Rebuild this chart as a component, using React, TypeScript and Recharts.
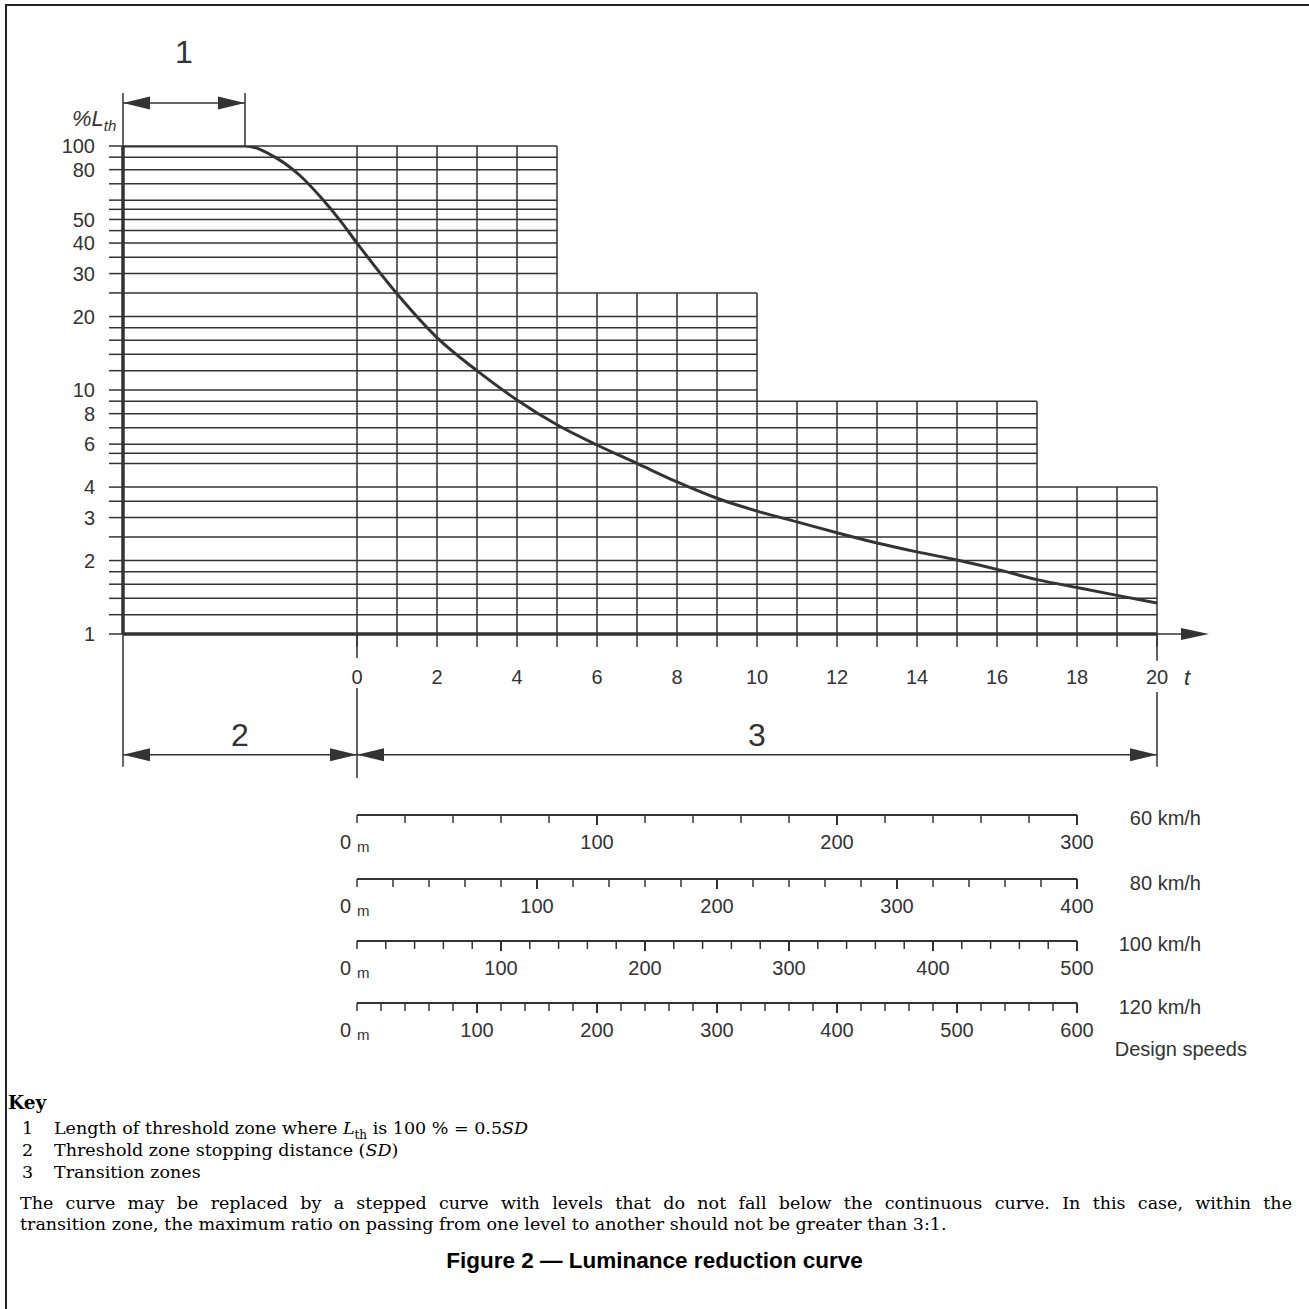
import { ComposedChart, LineChart, Line, XAxis, YAxis, ReferenceLine } from "recharts";

// luminance curve (t in s, %Lth)
const curveT = [-5.85, -2.8, -2, -1.4, -0.9, -0.4, 0, 1, 2, 3, 4, 5, 6, 7, 8, 9, 10, 11, 12, 13, 14, 15, 16, 17, 18, 19, 20];
const curveL = [100, 100, 89, 75, 61.5, 49, 40, 24.8, 16.4, 12, 9.1, 7.2, 5.95, 5.0, 4.2, 3.6, 3.19, 2.88, 2.6, 2.36, 2.17, 2.01, 1.84, 1.67, 1.55, 1.44, 1.34];

// grid
const gridLevels = [1.2, 1.4, 1.6, 1.8, 2, 2.5, 3, 3.5, 4, 5, 5.5, 6, 7, 8, 9, 10, 12, 14, 16, 18, 20, 25, 30, 35, 40, 45, 50, 55, 60, 70, 80, 90, 100];
const yLabels = [1, 2, 3, 4, 6, 8, 10, 20, 30, 40, 50, 80, 100];
const xTicks = [0, 1, 2, 3, 4, 5, 6, 7, 8, 9, 10, 11, 12, 13, 14, 15, 16, 17, 18, 19, 20];
const stepEnds = [5, 10, 17, 20];
const stepTops = [100, 25, 9, 4];

// zones
const tStart = -5.85;
const thresholdEnd = -2.8;

// design speed scales (distance reached at t = 18 s)
const speedNames = ["60 km/h", "80 km/h", "100 km/h", "120 km/h"];
const speedMax = [300, 400, 500, 600];

const INK = "#333";
const SANS = "'Liberation Sans', Arial, sans-serif";
const SERIF = "'DejaVu Serif', serif";

const curveData = curveT.map((t, i) => ({ t, l: curveL[i] }));

const rowEnd = (v: number) => {
  let end = stepEnds[0];
  stepTops.forEach((top, i) => {
    if (top >= v) end = stepEnds[i];
  });
  return end;
};

const colTop = (t: number) => {
  const i = stepEnds.findIndex((e) => t <= e);
  return stepTops[i];
};

const dimShape = (label: string, gap: number) => (p: any) => {
  const { x1, y1, x2 } = p;
  const a = 27;
  const h = 6.5;
  return (
    <g>
      <line x1={x1} y1={y1} x2={x2} y2={y1} stroke={INK} strokeWidth={1.5} />
      <polygon points={`${x1},${y1} ${x1 + a},${y1 - h} ${x1 + a},${y1 + h}`} fill={INK} />
      <polygon points={`${x2},${y1} ${x2 - a},${y1 - h} ${x2 - a},${y1 + h}`} fill={INK} />
      <text x={(x1 + x2) / 2} y={y1 - gap} textAnchor="middle" fontSize={32} fill={INK}>
        {label}
      </text>
    </g>
  );
};

const axisArrow = (p: any) => {
  const { x1, y1, x2 } = p;
  return (
    <g>
      <line x1={x1} y1={y1} x2={x2 - 20} y2={y1} stroke={INK} strokeWidth={1.5} />
      <polygon points={`${x2},${y1} ${x2 - 28},${y1 - 6} ${x2 - 28},${y1 + 6}`} fill={INK} />
      <text x={x2 - 22} y={y1 + 51} textAnchor="middle" fontSize={22} fontStyle="italic" fill={INK}>
        t
      </text>
    </g>
  );
};

const ScaleTick = (props: any) => {
  const { x, y, payload } = props;
  const v = payload.value;
  const major = v % 100 === 0 && v > 0;
  return (
    <g>
      <line x1={x} y1={y} x2={x} y2={y + (major ? 10 : 8)} stroke={INK} strokeWidth={major ? 2 : 1.5} />
      {v === 0 ? (
        <g>
          <text x={x - 6} y={y + 34} textAnchor="end" fontSize={20} fill={INK}>0</text>
          <text x={x} y={y + 37} fontSize={15} fill={INK}>m</text>
        </g>
      ) : major ? (
        <text x={x} y={y + 34} textAnchor="middle" fontSize={20} fill={INK}>{v}</text>
      ) : null}
    </g>
  );
};

const scaleRowY = [815, 879, 941, 1003];
const scaleLabelY = [818, 883, 944, 1007];

function SpeedScale({ max, top }: { max: number; top: number }) {
  const ticks: number[] = [];
  for (let m = 0; m <= max; m += 20) ticks.push(m);
  const data = ticks.map((m) => ({ m }));
  return (
    <div style={{ position: "absolute", left: 0, top: top - 12 }}>
      <LineChart width={1309} height={60} data={data} margin={{ top: 10, right: 232, bottom: 0, left: 357 }}>
        <YAxis hide />
        <XAxis
          dataKey="m"
          type="number"
          domain={[0, max]}
          ticks={ticks}
          interval={0}
          height={48}
          tickSize={0}
          tickMargin={0}
          tickLine={false}
          axisLine={{ stroke: INK, strokeWidth: 2 }}
          tick={<ScaleTick />}
        />
        <Line dataKey="m" stroke="none" dot={false} isAnimationActive={false} />
      </LineChart>
    </div>
  );
}

const textAt = (center: number, left: number, extra: any = {}) => ({
  position: "absolute" as const,
  top: center - 11,
  left,
  lineHeight: "22px",
  whiteSpace: "nowrap" as const,
  ...extra,
});

export default function App() {
  return (
    <div style={{ position: "absolute", left: 0, top: 0, width: 1309, height: 1309, background: "#fff", fontFamily: SANS, color: INK }}>
      <div style={{ position: "absolute", left: 5, top: 4, width: 1304, height: 1305, borderLeft: "2px solid #222", borderTop: "2px solid #222" }} />

      <div style={{ position: "absolute", left: 0, top: 0 }}>
        <ComposedChart width={1309} height={800} data={curveData} margin={{ top: 146, right: 152, bottom: 0, left: 0 }}>
          <XAxis
            dataKey="t"
            type="number"
            domain={[tStart, 20]}
            allowDataOverflow
            ticks={xTicks}
            interval={0}
            height={166}
            tickSize={13}
            tickMargin={23}
            tickLine={{ stroke: INK, strokeWidth: 1.5 }}
            axisLine={{ stroke: INK, strokeWidth: 3.5 }}
            tick={{ fill: INK, fontSize: 20 }}
            tickFormatter={(v: number) => (v % 2 === 0 ? String(v) : "")}
          />
          <YAxis
            type="number"
            scale="log"
            domain={[1, 100]}
            allowDataOverflow
            ticks={[1, ...gridLevels]}
            interval={0}
            width={123}
            tickSize={14}
            tickMargin={14}
            tickLine={{ stroke: INK, strokeWidth: 1.5 }}
            axisLine={{ stroke: INK, strokeWidth: 3.5 }}
            tick={{ fill: INK, fontSize: 20 }}
            tickFormatter={(v: number) => (yLabels.includes(v) ? String(v) : "")}
          />

          {gridLevels.map((v) => (
            <ReferenceLine
              key={"h" + v}
              segment={[{ x: tStart, y: v }, { x: rowEnd(v), y: v }]}
              stroke={INK}
              strokeWidth={1.5}
            />
          ))}
          {xTicks.map((t) => (
            <ReferenceLine
              key={"v" + t}
              segment={[{ x: t, y: 1 }, { x: t, y: colTop(t) }]}
              stroke={INK}
              strokeWidth={1.5}
            />
          ))}

          {/* extension lines */}
          <ReferenceLine segment={[{ x: tStart, y: 100 }, { x: tStart, y: 165 }]} stroke={INK} strokeWidth={1.5} ifOverflow="visible" />
          <ReferenceLine segment={[{ x: thresholdEnd, y: 100 }, { x: thresholdEnd, y: 165 }]} stroke={INK} strokeWidth={1.5} ifOverflow="visible" />
          <ReferenceLine segment={[{ x: tStart, y: 1 }, { x: tStart, y: 0.286 }]} stroke={INK} strokeWidth={1.5} ifOverflow="visible" />
          <ReferenceLine segment={[{ x: 0, y: 1 }, { x: 0, y: 0.798 }]} stroke={INK} strokeWidth={1.5} ifOverflow="visible" />
          <ReferenceLine segment={[{ x: 0, y: 0.601 }, { x: 0, y: 0.257 }]} stroke={INK} strokeWidth={1.5} ifOverflow="visible" />
          <ReferenceLine segment={[{ x: 20, y: 1 }, { x: 20, y: 0.776 }]} stroke={INK} strokeWidth={1.5} ifOverflow="visible" />
          <ReferenceLine segment={[{ x: 20, y: 0.579 }, { x: 20, y: 0.286 }]} stroke={INK} strokeWidth={1.5} ifOverflow="visible" />

          {/* dimension lines */}
          <ReferenceLine segment={[{ x: tStart, y: 150 }, { x: thresholdEnd, y: 150 }]} ifOverflow="visible" shape={dimShape("1", 40)} />
          <ReferenceLine segment={[{ x: tStart, y: 0.32 }, { x: 0, y: 0.32 }]} ifOverflow="visible" shape={dimShape("2", 9)} />
          <ReferenceLine segment={[{ x: 0, y: 0.32 }, { x: 20, y: 0.32 }]} ifOverflow="visible" shape={dimShape("3", 9)} />
          <ReferenceLine segment={[{ x: 20, y: 1 }, { x: 21.3, y: 1 }]} ifOverflow="visible" shape={axisArrow} />

          <Line type="monotone" dataKey="l" stroke={INK} strokeWidth={3} dot={false} isAnimationActive={false} />
        </ComposedChart>
      </div>

      <div style={{ position: "absolute", top: 107, left: 72, fontSize: 22, fontStyle: "italic", lineHeight: "24px", whiteSpace: "nowrap" }}>
        %L<sub style={{ fontSize: 15 }}>th</sub>
      </div>

      {speedNames.map((name, i) => (
        <SpeedScale key={name} max={speedMax[i]} top={scaleRowY[i]} />
      ))}
      {speedNames.map((name, i) => (
        <div key={"l" + name} style={{ position: "absolute", right: 1309 - 1201, top: scaleLabelY[i] - 12, fontSize: 20, lineHeight: "24px", whiteSpace: "nowrap" }}>
          {name}
        </div>
      ))}
      <div style={{ position: "absolute", right: 1309 - 1247, top: 1049 - 12, fontSize: 20, lineHeight: "24px", whiteSpace: "nowrap" }}>
        Design speeds
      </div>

      <div style={{ fontFamily: SERIF, color: "#000", fontSize: 17.5 }}>
        <div style={textAt(1103, 8, { fontWeight: "bold", fontSize: 18.5 })}>Key</div>
        <div style={textAt(1128, 22)}>1</div>
        <div style={textAt(1128, 54)}>
          Length of threshold zone where <i>L</i>
          <sub style={{ fontSize: 12, lineHeight: 0 }}>th</sub> is 100 % = 0.5<i>SD</i>
        </div>
        <div style={textAt(1150, 22)}>2</div>
        <div style={textAt(1150, 54)}>
          Threshold zone stopping distance (<i>SD</i>)
        </div>
        <div style={textAt(1172, 22)}>3</div>
        <div style={textAt(1172, 54)}>Transition zones</div>
        <div style={textAt(1203, 20, { width: 1272, textAlign: "justify", textAlignLast: "justify" })}>
          The curve may be replaced by a stepped curve with levels that do not fall below the continuous curve. In this case, within the
        </div>
        <div style={textAt(1224, 20)}>
          transition zone, the maximum ratio on passing from one level to another should not be greater than 3:1.
        </div>
      </div>

      <div style={{ position: "absolute", left: 0, top: 1248, width: 1309, textAlign: "center", fontFamily: SANS, fontWeight: "bold", fontSize: 22.5, color: "#000" }}>
        Figure 2 — Luminance reduction curve
      </div>
    </div>
  );
}
